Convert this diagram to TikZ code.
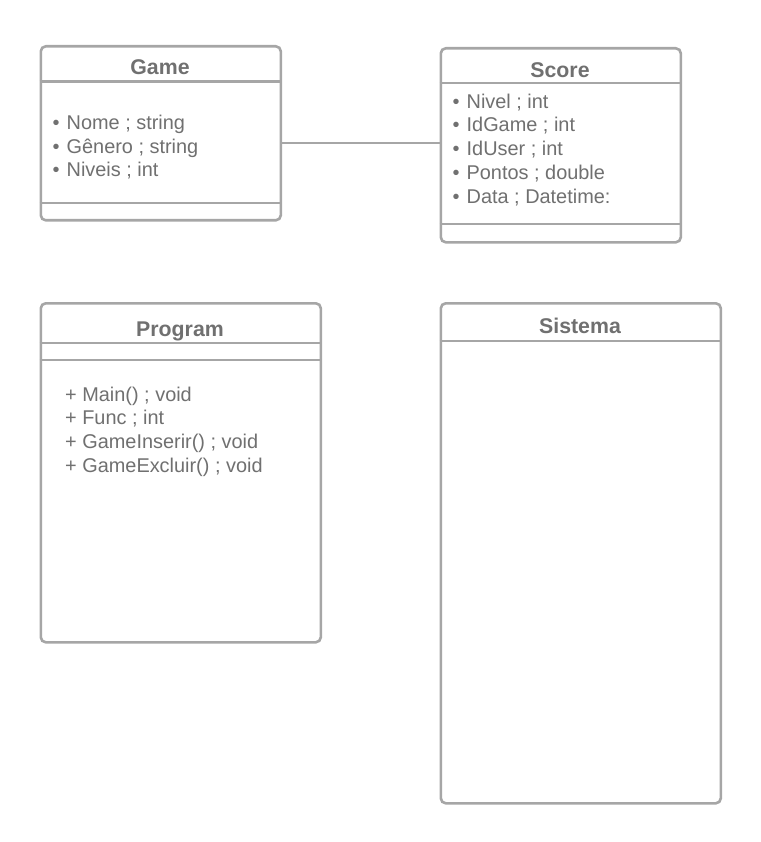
\documentclass[tikz,border=0pt]{standalone}
\usepackage{fontspec}
\setmainfont{Liberation Sans}
\definecolor{linegray}{HTML}{A6A6A6}
\definecolor{textgray}{HTML}{707070}
\begin{document}
\begin{tikzpicture}[x=1pt,y=-1pt,
  classbox/.style={draw=linegray, line width=2.6pt, rounded corners=5pt, fill=white, anchor=north west, inner sep=0pt},
  sepline/.style={draw=linegray, line width=2.6pt},
  title/.style={anchor=base, text=textgray, font=\fontsize{21.3}{25}\selectfont\bfseries, inner sep=0pt},
  attr/.style={anchor=base west, text=textgray, font=\fontsize{19.9}{23}\selectfont, inner sep=0pt},
  conn/.style={draw=linegray, line width=2.6pt}]
\useasboundingbox (0,0) rectangle (760,842);
% Game
\node[classbox, minimum width=240pt, minimum height=174pt] (game) at (39.5,45) {};
\draw[sepline] (39.5,81.5) -- (279.5,81.5);
\draw[sepline] (39.5,203) -- (279.5,203);
\node[title] (gameT) at (160,75) {Game};
\node[attr] (g1) at (52.5,130) {•\hspace{7pt}Nome ; string};
\node[attr] (g2) at (52.5,153.5) {•\hspace{7pt}Gênero ; string};
\node[attr] (g3) at (52.5,177) {•\hspace{7pt}Niveis ; int};
% Score
\node[classbox, minimum width=240pt, minimum height=194pt] (score) at (439.5,47) {};
\draw[sepline] (439.5,83) -- (679.5,83);
\draw[sepline] (439.5,224) -- (679.5,224);
\node[title] (scoreT) at (560,77.7) {Score};
\node[attr] (s1) at (452.5,108.3) {•\hspace{7pt}Nivel ; int};
\node[attr] (s2) at (452.5,132) {•\hspace{7pt}IdGame ; int};
\node[attr] (s3) at (452.5,155.7) {•\hspace{7pt}IdUser ; int};
\node[attr] (s4) at (452.5,179.6) {•\hspace{7pt}Pontos ; double};
\node[attr] (s5) at (452.5,203.3) {•\hspace{7pt}Data ; Datetime:};
% connector
\draw[conn] (game.east |- 0,143) -- (score.west |- 0,143);
% Program
\node[classbox, minimum width=280pt, minimum height=339pt] (program) at (39.5,302) {};
\draw[sepline] (39.5,343) -- (319.5,343);
\draw[sepline] (39.5,360) -- (319.5,360);
\node[title] (programT) at (180,336.7) {Program};
\node[attr] (p1) at (65,401) {+ Main() ; void};
\node[attr] (p2) at (65,424.6) {+ Func ; int};
\node[attr] (p3) at (65,448.3) {+ GameInserir() ; void};
\node[attr] (p4) at (65,472.3) {+ GameExcluir() ; void};
% Sistema
\node[classbox, minimum width=280pt, minimum height=500pt] (sistema) at (439.5,302) {};
\draw[sepline] (439.5,341) -- (719.5,341);
\node[title] (sistemaT) at (580,333.3) {Sistema};
\end{tikzpicture}
\end{document}
